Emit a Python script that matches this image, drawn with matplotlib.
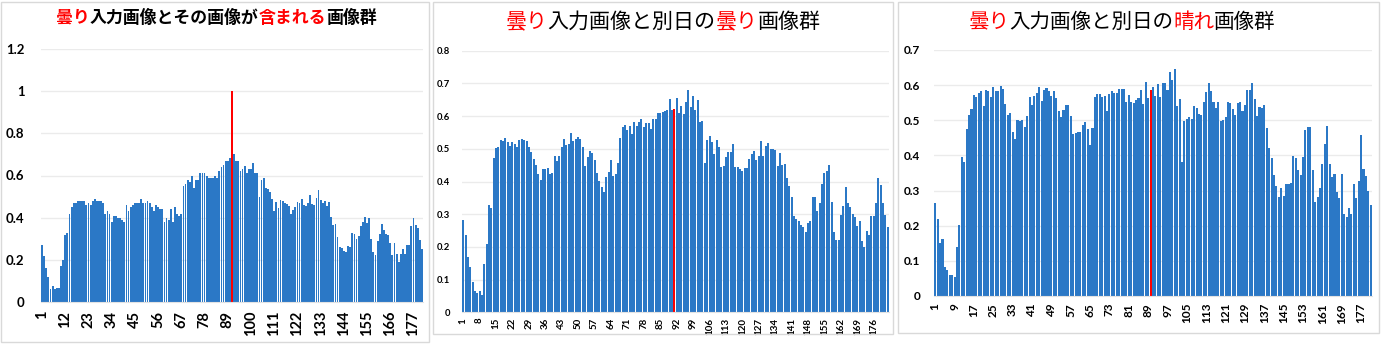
import matplotlib
matplotlib.use('Agg')
import matplotlib.pyplot as plt
from matplotlib.patches import Rectangle
import numpy as np

W, H = 1387, 346
JP = ['Noto Sans CJK JP', 'DejaVu Sans']
NUM = ['Lato', 'DejaVu Sans']
BLUE = '#2B78C6'
RED = '#FF0000'

# panel 1: cloudy input vs. image group that contains it
p1 = [0.27, 0.22, 0.16, 0.12, 0.065, 0.075, 0.065, 0.07, 0.07, 0.17, 0.2,
      0.32, 0.33, 0.42, 0.45, 0.47, 0.47, 0.48, 0.48, 0.48, 0.48, 0.46,
      0.47, 0.46, 0.48, 0.49, 0.48, 0.48, 0.48, 0.47, 0.42, 0.43, 0.42,
      0.38, 0.41, 0.41, 0.40, 0.40, 0.39, 0.38, 0.46, 0.43, 0.45, 0.46,
      0.47, 0.47, 0.47, 0.49, 0.47, 0.47, 0.48, 0.47, 0.45, 0.43, 0.46,
      0.45, 0.44, 0.44, 0.38, 0.40, 0.39, 0.44, 0.38, 0.45, 0.42, 0.41,
      0.42, 0.55, 0.56, 0.58, 0.57, 0.60, 0.54, 0.58, 0.58, 0.61, 0.61,
      0.61, 0.60, 0.59, 0.59, 0.59, 0.60, 0.59, 0.62, 0.64, 0.65, 0.67,
      0.67, 0.685, 1.0,
      0.70, 0.67, 0.67, 0.62, 0.63, 0.645, 0.61, 0.63, 0.63, 0.66, 0.61, 0.61,
      0.50, 0.58, 0.59, 0.54, 0.535, 0.52, 0.49,
      0.43, 0.475, 0.445, 0.485, 0.48, 0.47, 0.465, 0.455, 0.42, 0.435, 0.45,
      0.475, 0.47, 0.49, 0.46, 0.455, 0.47, 0.51, 0.465, 0.46, 0.495, 0.53,
      0.485, 0.47, 0.48, 0.455, 0.475,
      0.405, 0.365, 0.37, 0.31, 0.26, 0.255, 0.245, 0.24, 0.265, 0.26, 0.33,
      0.325, 0.30, 0.315, 0.36, 0.38, 0.405, 0.375, 0.40, 0.30,
      0.24, 0.225, 0.29, 0.325, 0.37, 0.34, 0.325, 0.32, 0.28, 0.225, 0.28,
      0.23, 0.19, 0.23, 0.25, 0.23, 0.27, 0.27, 0.36, 0.40, 0.365, 0.35,
      0.295, 0.25]
red1 = 91

# panel 2: cloudy input vs. cloudy images of other days
p2 = [0.282, 0.235, 0.168, 0.14, 0.092, 0.066, 0.058, 0.064, 0.052, 0.148,
      0.209, 0.327, 0.32, 0.471, 0.503, 0.507, 0.527, 0.525, 0.532, 0.522,
      0.509, 0.52, 0.514, 0.505, 0.527, 0.53, 0.527, 0.525, 0.505, 0.49,
      0.469, 0.449, 0.422, 0.405, 0.438, 0.438, 0.44, 0.423, 0.425, 0.479,
      0.462, 0.479, 0.505, 0.53, 0.512, 0.516, 0.547, 0.525, 0.529, 0.535,
      0.529, 0.507, 0.447, 0.474, 0.493, 0.486, 0.466, 0.425, 0.402, 0.384,
      0.369, 0.415, 0.43, 0.466, 0.417, 0.423, 0.458, 0.532, 0.566, 0.574,
      0.558, 0.571, 0.545, 0.582, 0.57, 0.582, 0.59, 0.568, 0.578, 0.578,
      0.56, 0.59, 0.592, 0.608, 0.611,
      0.613, 0.617, 0.62, 0.653, 0.619, 0.623, 0.654, 0.61, 0.631, 0.607,
      0.642, 0.68, 0.627, 0.662, 0.619, 0.65, 0.582, 0.584, 0.456, 0.527,
      0.539, 0.522, 0.483, 0.527, 0.504, 0.445, 0.448, 0.474, 0.49, 0.489,
      0.515, 0.443, 0.443, 0.437, 0.432, 0.44, 0.44, 0.469, 0.483, 0.493,
      0.466, 0.478, 0.524, 0.478, 0.509, 0.517, 0.498, 0.498, 0.496, 0.448,
      0.486, 0.449, 0.453, 0.41, 0.386, 0.352, 0.296, 0.284, 0.28, 0.267,
      0.262, 0.247, 0.274, 0.279, 0.354, 0.352, 0.311, 0.333, 0.391, 0.425,
      0.432, 0.45, 0.338, 0.247, 0.221, 0.221, 0.298, 0.326, 0.384, 0.333,
      0.323, 0.301, 0.291, 0.264, 0.28, 0.219, 0.199, 0.248, 0.237, 0.293,
      0.295, 0.333, 0.412, 0.388, 0.333, 0.298, 0.26]
red2 = 91

# panel 3: cloudy input vs. clear images of other days
p3 = [0.264, 0.218, 0.152, 0.162, 0.082, 0.074, 0.06, 0.06, 0.055, 0.14,
      0.202, 0.395, 0.38, 0.474, 0.516, 0.531, 0.572, 0.565, 0.577, 0.582,
      0.541, 0.586, 0.582, 0.567, 0.594, 0.584, 0.584, 0.597, 0.589, 0.546,
      0.515, 0.522, 0.466, 0.446, 0.501, 0.498, 0.501, 0.482, 0.512, 0.567,
      0.543, 0.569, 0.579, 0.594, 0.555, 0.586, 0.591, 0.582, 0.569, 0.583,
      0.563, 0.525, 0.51, 0.529, 0.544, 0.544, 0.513, 0.46, 0.465, 0.468,
      0.468, 0.487, 0.496, 0.474, 0.43, 0.477, 0.565, 0.574, 0.574, 0.565,
      0.57, 0.527, 0.574, 0.583, 0.577, 0.577, 0.588, 0.589, 0.588, 0.553,
      0.572, 0.553, 0.548, 0.558,
      0.563, 0.586, 0.546, 0.61, 0.563, 0.586, 0.596, 0.569, 0.603, 0.567,
      0.605, 0.607, 0.586, 0.637, 0.615, 0.647, 0.542, 0.56, 0.38, 0.498,
      0.503, 0.508, 0.503, 0.541, 0.534, 0.518, 0.515, 0.551, 0.58, 0.605,
      0.584, 0.553, 0.534, 0.553, 0.498, 0.501, 0.508, 0.553, 0.55, 0.531,
      0.514, 0.548, 0.552, 0.527, 0.543, 0.586, 0.586, 0.605, 0.56, 0.513,
      0.537, 0.534, 0.544, 0.477, 0.422, 0.394, 0.344, 0.314, 0.283, 0.308,
      0.285, 0.319, 0.318, 0.321, 0.397, 0.394, 0.359, 0.344, 0.395, 0.471,
      0.482, 0.482, 0.359, 0.268, 0.281, 0.308, 0.376, 0.433, 0.484, 0.376,
      0.34, 0.347, 0.297, 0.278, 0.347, 0.233, 0.226, 0.25, 0.232, 0.318,
      0.28, 0.327, 0.458, 0.361, 0.342, 0.299, 0.259]
red3 = 90

titles = [
    [('曇り', RED), ('入力画像とその画像が', 'black'), ('含まれる', RED), ('画像群', 'black')],
    [('曇り', RED), ('入力画像と別日の', 'black'), ('曇り', RED), ('画像群', 'black')],
    [('曇り', RED), ('入力画像と別日の', 'black'), ('晴れ', RED), ('画像群', 'black')],
]
yticks = [[0, 0.2, 0.4, 0.6, 0.8, 1, 1.2],
          [0, 0.1, 0.2, 0.3, 0.4, 0.5, 0.6, 0.7, 0.8],
          [0, 0.1, 0.2, 0.3, 0.4, 0.5, 0.6, 0.7]]
ytick_labels = [['0', '0.2', '0.4', '0.6', '0.8', '1', '1.2'],
                ['0', '0.1', '0.2', '0.3', '0.4', '0.5', '0.6', '0.7', '0.8'],
                ['0', '0.1', '0.2', '0.3', '0.4', '0.5', '0.6', '0.7']]
xstep = [11, 7, 8]

# layout in pixels: plot area (left, right, top, bottom), frame, title
areas = [(41, 423, 48.7, 302.3), (462, 889, 50.7, 312.3), (934, 1372, 50, 296)]
frames = [(1, 2, 429, 342), (433, 2, 893, 334), (898, 2, 1379, 333)]
title_pos = [(216, 18, 12.2, 'bold'), (663, 22, 15.1, 'normal'), (1122, 22, 14.8, 'normal')]
tick_size = [(9.5, 10.5), (6.8, 7.0), (8.5, 8.5)]
ypad = [12, 8.5, 10]
xpad = [6, 4, 5]

fig = plt.figure(figsize=(W / 100, H / 100), dpi=100)

for (x0, y0, x1, y1) in frames:
    fig.patches.append(Rectangle((x0 / W, 1 - y1 / H), (x1 - x0) / W, (y1 - y0) / H,
                                 transform=fig.transFigure, fill=False,
                                 edgecolor='#D9D9D9', linewidth=1.0))

data = [p1, p2, p3]
reds = [red1, red2, red3]
for k in range(3):
    vals = np.array(data[k])
    n = len(vals)
    x = np.arange(1, n + 1)
    l, r, t, b = areas[k]
    ax = fig.add_axes([l / W, 1 - b / H, (r - l) / W, (b - t) / H])
    colors = [RED if i == reds[k] else BLUE for i in x]
    ax.bar(x, vals, width=0.86, color=colors, linewidth=0, zorder=2)
    ax.set_xlim(0.5, n + 0.5)
    ax.set_ylim(0, yticks[k][-1])
    ax.set_yticks(yticks[k])
    ax.set_yticklabels(ytick_labels[k], fontsize=tick_size[k][0], fontweight='bold', family=NUM)
    xt = np.arange(1, n + 1, xstep[k])
    ax.set_xticks(xt)
    ax.set_xticklabels([str(v) for v in xt], rotation=90, fontsize=tick_size[k][1],
                       fontweight='bold', family=NUM)
    ax.tick_params(axis='both', length=0)
    ax.tick_params(axis='y', pad=ypad[k])
    ax.tick_params(axis='x', pad=xpad[k])
    ax.grid(axis='y', color='#EBEBEB', linewidth=1.0, zorder=0)
    ax.set_axisbelow(True)
    for s in ['top', 'right', 'left']:
        ax.spines[s].set_visible(False)
    ax.spines['bottom'].set_color('#E3E3E3')

# titles with red highlights, pieces laid side by side
renderer = fig.canvas.get_renderer()
for k in range(3):
    cx, cy, size, weight = title_pos[k]
    texts = []
    for s, c in titles[k]:
        texts.append(fig.text(0, 1 - cy / H, s, color=c, fontsize=size,
                              fontweight=weight, family=JP, ha='left', va='center'))
    widths = [t.get_window_extent(renderer).width for t in texts]
    xpos = cx - sum(widths) / 2
    for t, w in zip(texts, widths):
        t.set_x(xpos / W)
        xpos += w

fig.savefig('out.png', dpi=100)
